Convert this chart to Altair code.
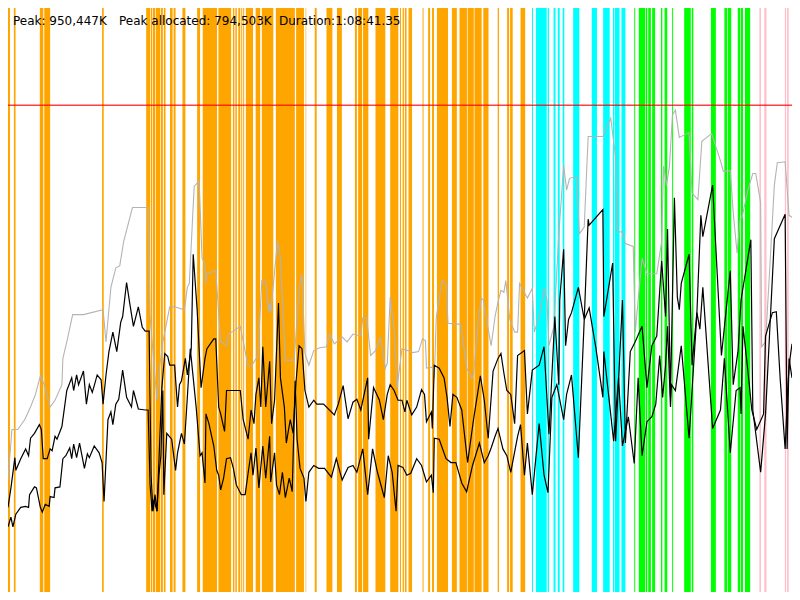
import altair as alt
import pandas as pd

W, H = 784, 584

# ---- memory series (time in sample units 0..800, memory in units 0..600) ----
gray_t = [0,4,10,17,23,28,33,37,43,48, 55,56,60,66,77,97,100,105,110,114, 118,127,143,145,152,155,158,165,170,180,
          183,185,190,195,198,201,202,203,212,217, 223,225,230,237,245,249,255,259,263,266, 267,268,275,278,283,292,297,300,303,307,
          312,318,325,328,333,341,346,352,360,362, 366,370,375,380,385,387,390,394,397,402, 408,413,419,423,426,427,433,435,437,443,
          447,449,462,468,473,475,480,483,485,488, 493,497,500,503,506,508,512,517,520,522, 530,535,537,542,547,550,552,557,562,567,
          570,573,580,583,588,592,607,615,620,622, 627,630,638,640,647,652,662,667,669,672, 675,678,681,685,695,698,704,708,718,727,
          730,737,740,744,747,749,755,760,763,768, 769,773,777,782,785,793,797,800]
gray_mem = [115,167,167,177,190,203,222,213,190,197, 213,240,257,285,285,290,257,313,333,335, 360,395,395,283,197,233,257,293,293,290,
            313,317,417,422,343,337,317,327,330,257, 253,265,268,273,232,233,243,320,318,288, 297,287,360,343,238,238,310,327,245,233,
            248,251,252,265,255,262,257,265,263,282, 282,243,248,262,230,235,303,270,210,250, 248,246,247,260,258,230,231,220,282,320,
            317,276,275,230,220,223,280,302,300,282, 253,283,298,310,308,320,280,267,267,317, 302,312,267,283,312,300,253,273,367,438,
            413,425,427,368,375,468,468,487,447,370, 370,358,355,267,343,327,327,360,438,418, 438,490,495,467,472,410,403,463,471,443,
            432,433,390,348,383,385,413,430,430,400, 252,257,327,418,441,442,387,385]

up_t = [0,3,7,8,13,18,21,23,27,32, 34,36,40,43,45,48,50,55,60,65, 67,70,72,77,80,83,86,88,91,95,
        97,100,103,107,111,115,117,121,124,128, 133,137,140,144,146,148,150,152,155,157, 160,163,165,170,173,175,177,181,183,187,
        189,193,197,198,201,203,210,212,215,217, 221,223,237,240,245,248,251,253,256,258, 260,263,267,269,272,276,278,282,284,288,
        291,292,294,297,300,303,307,312,315,322, 333,337,342,347,352,356,360,367,368,373, 379,383,387,390,394,398,402,405,407,412,
        417,422,425,427,432,433,435,440,445,448, 451,454,458,463,469,475,482,486,490,495, 500,503,506,509,513,517,520,527,530,535,
        542,547,552,558,562,563,567,569,572,575, 582,588,592,593,607,608,617,620,627,630, 635,640,647,652,657,662,667,671,673,676,
        680,683,685,687,695,698,703,707,709,719, 728,737,740,745,748,758,760,768,773,777, 782,793,795,797,800]
up_mem = [87,107,138,125,137,147,140,158,163,172, 167,137,137,147,145,160,157,170,207,220, 207,223,213,227,193,213,205,212,223,218,
          193,223,247,267,247,277,283,318,298,273, 293,272,268,268,120,83,100,83,160,210, 245,242,233,233,190,213,217,240,223,250,
          347,290,210,217,240,250,260,260,190,183, 165,207,207,177,157,187,173,203,220,190, 252,190,237,173,197,297,220,190,153,177,
          163,183,217,253,250,207,190,197,193,193, 182,193,212,178,195,198,187,220,157,210, 197,177,203,213,207,197,197,185,197,182,
          190,208,203,175,185,168,233,230,220,200, 170,203,200,187,133,177,222,197,158,227, 240,245,225,207,203,173,243,248,183,228,
          233,252,162,283,213,300,352,253,280,287, 313,280,383,377,393,283,338,155,300,153, 247,257,273,210,253,263,340,283,373,200,
          405,303,290,317,347,233,288,387,365,418, 243,330,213,248,300,362,187,123,183,263, 363,388,147,240,220]

lo_t = [0,3,5,8,13,18,21,22,27,29, 33,35,38,42,43,47,48,53,56,59, 63,65,67,70,73,78,81,83,88,93,
        96,98,102,105,107,110,113,117,121,126, 128,133,140,143,145,147,149,152,154,156, 158,159,162,167,171,173,177,180,183,186,
        192,196,198,201,202,205,210,213,215,217, 220,223,227,230,233,238,242,245,248,250, 253,256,260,263,267,268,272,274,277,280,
        283,287,290,293,295,298,302,304,307,312, 317,323,330,335,341,347,352,356,362,367, 372,377,380,384,388,392,396,398,403,407,
        411,417,422,427,432,434,435,440,447,452, 457,463,468,474,481,486,490,493,497,500, 505,509,513,520,523,527,530,535,542,547,
        551,555,560,567,570,575,582,588,593,600, 607,608,618,623,627,633,639,643,647,652, 657,661,665,668,671,673,676,677,681,687,
        695,698,703,706,709,719,727,731,737,743, 747,748,750,755,759,764,771,773,780,784, 788,793,796,798,800]
lo_mem = [67,77,67,80,87,88,87,100,108,107, 87,82,90,88,98,97,107,108,137,140, 148,137,152,138,153,127,142,138,150,143,
          133,93,177,185,172,193,198,228,200,190, 207,188,187,187,110,83,95,83,120,140, 207,100,163,157,125,143,163,152,200,250,
          190,140,143,112,183,173,150,125,120,105, 117,137,138,127,110,100,100,122,143,120, 148,107,150,117,160,113,143,110,100,123,
          97,117,103,217,157,127,117,93,123,130, 127,127,118,137,115,128,130,123,147,100, 147,123,112,97,140,123,83,130,128,120,
          122,137,130,113,120,102,158,157,137,133, 133,112,103,130,153,133,140,148,160,168, 147,140,123,160,172,120,153,100,173,120,
          102,200,213,177,203,223,138,280,292,250, 200,247,155,220,150,180,132,220,140,175, 180,193,243,200,233,273,190,213,207,253,
          158,207,287,270,313,168,187,240,143,207, 210,183,273,227,187,167,183,263,287,288, 218,147,217,240,255]

limit_mem = [500]

# ---- GC event spans (start, end) ----
orange_start = [0,6,32.5,37,96,141,145.7,147.7,150.7,156,159,165.3,169,178,193,198.7,214.7,229.5,232,235,238,240,242.7,252.7,
                259,273.3,294,303.7,313,325,335.7,354,357.3,362.3,375,390,400,402.7,405,408.7,423,428.7,432.7,437.7,453,
                460.7,469,476,485,499.7,509.3,512.3,523]
orange_end = [2,7.7,36,43,97.7,145,147,150,155.3,158,160.7,168,171,181,196,213.3,227.7,231,233.5,237,239,241,250,257.3,
              270.7,292.7,302,304.3,315,331,340.7,356,361.3,367.7,385,398.3,401,404,406.7,412.3,424,430.7,434.7,449,458,
              468.3,475.3,483.3,490.3,501,511.3,515,527.7]
cyan_start = [534.7,538.7,550.7,556.7,561,566,576.7,595.7,607.3,617.3,619.3,626]
cyan_end = [535.7,549.7,552,558.7,563,567.7,583,601,614,618.7,624,630]
green_start = [639,643.7,650.7,653.3,657.3,666.3,670,677.7,690,697.7,717.3,731,734.7,744.7,747.7,752]
green_end = [640,650,652.3,656,660.3,667.7,672.7,678.7,696.7,699.3,722.3,734,738,747,750,757.3]
pink_start = [766.7,771.7,792.7,795]
pink_end = [768.3,774,794,796.7]

labels = ["Peak: 950,447K", "Peak allocated: 794,503K", "Duration:1:08:41.35"]

# ---- build tables ----
bars = pd.concat([
    pd.DataFrame({"start": orange_start, "end": orange_end, "kind": "orange"}),
    pd.DataFrame({"start": cyan_start, "end": cyan_end, "kind": "cyan"}),
    pd.DataFrame({"start": green_start, "end": green_end, "kind": "green"}),
    pd.DataFrame({"start": pink_start, "end": pink_end, "kind": "pink"}),
], ignore_index=True)

lines = pd.concat([
    pd.DataFrame({"t": gray_t, "mem": gray_mem, "series": "committed"}),
    pd.DataFrame({"t": up_t, "mem": up_mem, "series": "used"}),
    pd.DataFrame({"t": lo_t, "mem": lo_mem, "series": "live"}),
], ignore_index=True)

xs = alt.Scale(domain=[0, 800], nice=False, zero=False)
ys = alt.Scale(domain=[0, 600], nice=False, zero=False)

bar_layer = alt.Chart(bars).mark_rect(strokeWidth=0).encode(
    x=alt.X("start:Q", scale=xs, axis=None),
    x2="end:Q",
    y=alt.value(0),
    y2=alt.value(H),
    color=alt.Color("kind:N", legend=None,
                    scale=alt.Scale(domain=["orange", "cyan", "green", "pink"],
                                    range=["#FFA500", "#00FFFF", "#00FF00", "#FFC0CB"])),
)

limit_layer = alt.Chart(pd.DataFrame({"mem": limit_mem})).mark_rule(
    color="#FF0000", strokeWidth=1.5, opacity=0.75
).encode(y=alt.Y("mem:Q", scale=ys, axis=None))

gray_layer = alt.Chart(lines[lines.series == "committed"]).mark_line(
    color="#B4B4B4", strokeWidth=1.1
).encode(
    x=alt.X("t:Q", scale=xs, axis=None),
    y=alt.Y("mem:Q", scale=ys, axis=None),
    order="t:Q",
)

black_layer = alt.Chart(lines[lines.series != "committed"]).mark_line(
    color="#000000", strokeWidth=1.2
).encode(
    x=alt.X("t:Q", scale=xs, axis=None),
    y=alt.Y("mem:Q", scale=ys, axis=None),
    detail="series:N",
    order="t:Q",
)

text_df = pd.DataFrame({"label": labels, "px": [5, 111, 271]})
text_layer = alt.Chart(text_df).mark_text(
    align="left", baseline="middle", fontSize=12, font="DejaVu Sans", color="#000000"
).encode(
    x=alt.X("px:Q", scale=alt.Scale(domain=[0, W], range=[0, W], nice=False, zero=False), axis=None),
    y=alt.value(12.5),
    text="label:N",
)

chart = alt.layer(bar_layer, limit_layer, gray_layer, black_layer, text_layer).resolve_scale(
    x="independent"
).properties(
    width=W, height=H, padding=0, autosize=alt.AutoSizeParams(type="none"),
    background="#FFFFFF",
).configure_view(stroke=None)

chart.save("out.html", embed_options={"renderer": "svg", "actions": False})
